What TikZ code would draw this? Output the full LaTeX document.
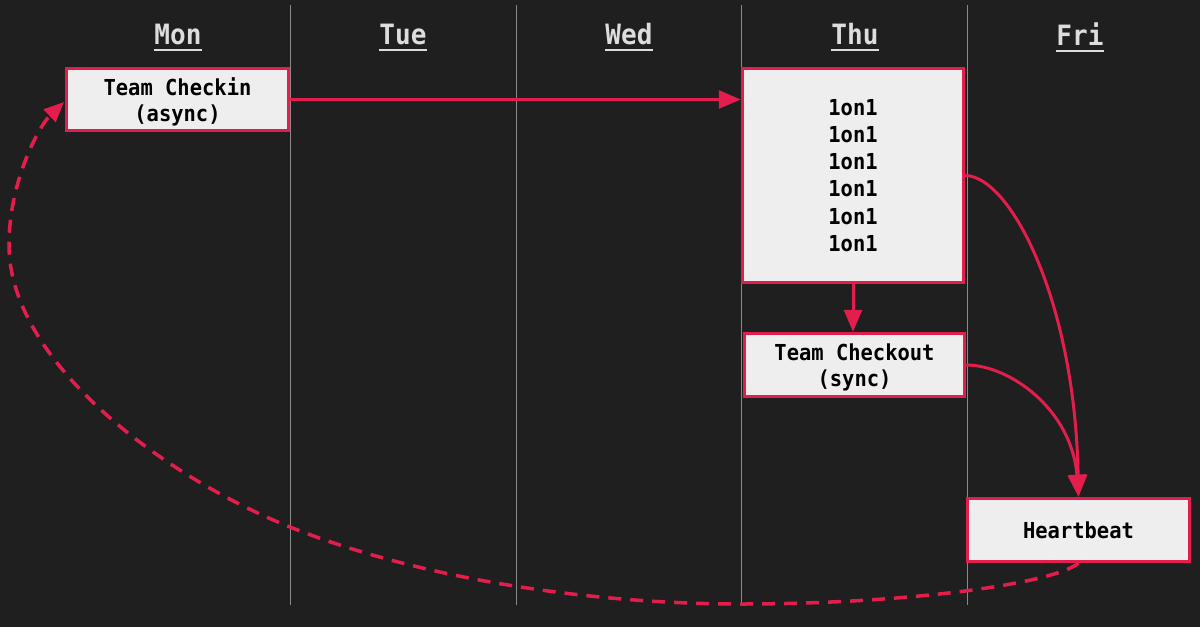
\documentclass[tikz,border=0pt]{standalone}
\usepackage{fontspec}
\newfontfamily\monof[FakeStretch=0.93]{DejaVu Sans Mono}
\usetikzlibrary{arrows.meta}
\definecolor{bg}{HTML}{1F1F1F}
\definecolor{sep}{HTML}{8A8A8A}
\definecolor{hdr}{HTML}{DDDDDD}
\definecolor{accent}{HTML}{E31E4D}
\definecolor{boxfill}{HTML}{EEEEEE}
\tikzset{
  boxnode/.style={draw=accent, line width=3.5pt, fill=boxfill, rectangle, inner sep=0pt,
    align=center, text=black, font=\monof\bfseries\fontsize{22}{26.5}\selectfont},
  hdrnode/.style={text=hdr, font=\monof\bfseries\fontsize{28}{32}\selectfont, inner sep=0pt},
  conn/.style={draw=accent, line width=3pt, -{Triangle[length=22pt,width=18pt]}},
  dashconn/.style={draw=accent, line width=3.5pt, dash pattern=on 13pt off 9pt,
    -{Triangle[length=20pt,width=17pt]}},
  colsep/.style={draw=sep, line width=1pt}
}
\begin{document}
\begin{tikzpicture}[x=1pt,y=-1pt]
\fill[bg] (0,0) rectangle (1200,627);
\useasboundingbox (0,0) rectangle (1200,627);
% column separators
\foreach \xx/\nm in {290/s1,516/s2,741/s3,967/s4}{
  \coordinate (\nm top) at (\xx,5);
  \coordinate (\nm bot) at (\xx,605);
  \draw[colsep] (\nm top) -- (\nm bot);
}
% headers
\foreach \xx/\lab in {178/Mon,403/Tue,629/Wed,855/Thu,1080/Fri}{
  \node[hdrnode] (h\lab) at (\xx,34) {\lab};
  \draw[hdr, line width=2pt] ([yshift=-5pt]h\lab.south west) -- ([yshift=-5pt]h\lab.south east);
}
% boxes
\node[boxnode, minimum width=222pt, minimum height=62pt, text depth=0pt] (checkin) at (177.5,99.5) {Team Checkin\\(async)};
\node[boxnode, minimum width=221pt, minimum height=214pt, font=\monof\bfseries\fontsize{22}{27.2}\selectfont] (thu) at (853,175.5) {1on1\\1on1\\1on1\\1on1\\1on1\\1on1};
\node[boxnode, minimum width=220pt, minimum height=63pt, text depth=0pt] (checkout) at (854.5,365) {Team Checkout\\(sync)};
\node[boxnode, minimum width=222pt, minimum height=63pt] (heart) at (1078.5,530) {Heartbeat};
% connectors
\draw[conn] (checkin.east) -- (checkin.east -| thu.west);
\draw[conn] (thu.south) -- (thu.south |- checkout.north);
\draw[conn] (thu.east) .. controls (1010,176) and (1075,300) .. (heart.north);
\draw[conn] (checkout.east) .. controls (1010,365) and (1072,410) .. (heart.north);
\coordinate (tip) at (64,102);
\draw[dashconn] (heart.south) .. controls (1050,585) and (900,604) .. (741,604)
  .. controls (591,604) and (420,579) .. (290,527)
  .. controls (160,475) and (9,360) .. (9,245)
  .. controls (9,180) and (40,125) .. (tip);
\end{tikzpicture}
\end{document}
